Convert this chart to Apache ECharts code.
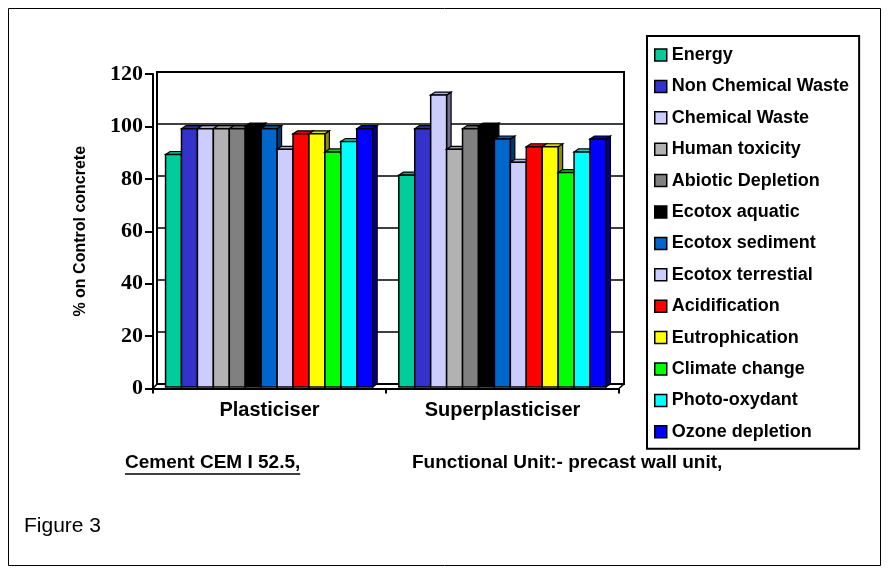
<!DOCTYPE html>
<html>
<head>
<meta charset="utf-8">
<script src="https://cdn.jsdelivr.net/npm/echarts@6/dist/echarts.min.js"></script>
<style>
  html, body { margin: 0; padding: 0; background: #fff; }
  #chart { width: 889px; height: 573px; }
</style>
</head>
<body>
<div id="chart"></div>
<script>
// Admixture variants on the category axis
const categories = ['Plasticiser', 'Superplasticiser'];

// Impact indicators (one bar series each) and their fill colours
const indicators = [
  'Energy', 'Non Chemical Waste', 'Chemical Waste', 'Human toxicity',
  'Abiotic Depletion', 'Ecotox aquatic', 'Ecotox sediment', 'Ecotox terrestial',
  'Acidification', 'Eutrophication', 'Climate change', 'Photo-oxydant', 'Ozone depletion'
];
const colors = [
  '#00CC99', '#3333CC', '#CCCCFF', '#B2B2B2', '#808080', '#000000', '#0066CC',
  '#CCCCFF', '#FF0000', '#FFFF00', '#00FF00', '#00FFFF', '#0000FF'
];

// % on control concrete, per indicator (same order as above)
const plasticiser      = [90, 100, 100, 100, 100, 101, 100, 92, 98, 98, 91, 95, 100];
const superplasticiser = [82, 100, 113, 92, 100, 101, 96, 87, 93, 93, 83, 91, 96];

// Value axis ticks
const yMin = 0, yMax = 120, yStep = 20;

const GROUP_RATIO = 0.888;   // share of a category band filled by its bars
const DX = 4.5, DY = 3;      // depth offset of the pseudo-3D bars
const SANS = '"Liberation Sans", Arial, sans-serif';

function shade(hex, k) {
  const n = parseInt(hex.slice(1), 16);
  const r = Math.round(((n >> 16) & 255) * k);
  const g = Math.round(((n >> 8) & 255) * k);
  const b = Math.round((n & 255) * k);
  return 'rgb(' + r + ',' + g + ',' + b + ')';
}

function renderBar(params, api) {
  const s = params.seriesIndex;
  const cat = api.value(0);
  const v = api.value(1);
  const base = api.coord([cat, 0]);
  const top = api.coord([cat, v]);
  const band = api.size([1, 0])[0];
  const groupW = band * GROUP_RATIO;
  const w = groupW / indicators.length;
  const x0 = base[0] - groupW / 2 + s * w;
  const x1 = x0 + w;
  const yb = base[1];
  const yt = top[1];
  const col = colors[s];
  return {
    type: 'group',
    children: [
      { type: 'polygon',
        shape: { points: [[x1, yb], [x1 + DX, yb - DY], [x1 + DX, yt - DY], [x1, yt]] },
        style: { fill: shade(col, 0.55), stroke: '#000', lineWidth: 1.2 } },
      { type: 'polygon',
        shape: { points: [[x0, yt], [x0 + DX, yt - DY], [x1 + DX, yt - DY], [x1, yt]] },
        style: { fill: shade(col, 0.85), stroke: '#000', lineWidth: 1.2 } },
      { type: 'rect',
        shape: { x: x0, y: yt, width: w, height: yb - yt },
        style: { fill: col, stroke: '#000', lineWidth: 1.5 } }
    ]
  };
}

const series = indicators.map(function (name, i) {
  return {
    name: name,
    type: 'custom',
    xAxisIndex: 1,
    yAxisIndex: 1,
    renderItem: renderBar,
    itemStyle: { color: colors[i], borderColor: '#000', borderWidth: 1.5 },
    encode: { x: 0, y: 1 },
    data: [[0, plasticiser[i]], [1, superplasticiser[i]]],
    z: 3
  };
});

const chart = echarts.init(document.getElementById('chart'), null, { renderer: 'canvas' });

// width of the underlined caption
const captionFont = 'bold 19px ' + SANS;
const measure = document.createElement('canvas').getContext('2d');
measure.font = captionFont;
const cementText = 'Cement CEM I 52.5,';
const cementW = measure.measureText(cementText).width;

const hidden = { show: false };
const edge = { stroke: '#000', lineWidth: 1.5 };

chart.setOption({
  animation: false,
  backgroundColor: '#fff',
  grid: [
    // back wall
    { left: 157, right: 265, top: 72, bottom: 189, show: true, borderColor: '#000', borderWidth: 2, backgroundColor: 'transparent' },
    // bars (mid depth)
    { left: 152.5, right: 270, top: 77, bottom: 186 },
    // front axes
    { left: 153, right: 270, top: 74, bottom: 184.5 }
  ],
  xAxis: [
    { type: 'category', gridIndex: 0, data: categories, axisLine: hidden, axisTick: hidden, axisLabel: hidden },
    { type: 'category', gridIndex: 1, data: categories, axisLine: hidden, axisTick: hidden, axisLabel: hidden },
    { type: 'category', gridIndex: 2, data: categories,
      axisLine: { show: true, lineStyle: { color: '#000', width: 2 } },
      axisTick: { show: true, length: 5, lineStyle: { color: '#000', width: 2 } },
      axisLabel: { color: '#000', fontFamily: SANS, fontWeight: 'bold', fontSize: 20, margin: 12 } }
  ],
  yAxis: [
    { type: 'value', gridIndex: 0, min: yMin, max: yMax, interval: yStep,
      axisLine: hidden, axisTick: hidden, axisLabel: hidden,
      splitLine: { show: true, lineStyle: { color: '#000', width: 1.5 } } },
    { type: 'value', gridIndex: 1, min: yMin, max: yMax, interval: yStep,
      axisLine: hidden, axisTick: hidden, axisLabel: hidden, splitLine: hidden },
    { type: 'value', gridIndex: 2, min: yMin, max: yMax, interval: yStep,
      name: '% on Control concrete', nameLocation: 'middle', nameGap: 64, nameRotate: 90,
      nameTextStyle: { color: '#000', fontFamily: SANS, fontWeight: 'bold', fontSize: 16 },
      axisLine: { show: true, lineStyle: { color: '#000', width: 2 } },
      axisTick: { show: true, length: 8, lineStyle: { color: '#000', width: 2 } },
      axisLabel: { color: '#000', fontFamily: '"Liberation Serif", "Times New Roman", serif', fontWeight: 'bold', fontSize: 22, margin: 10 },
      splitLine: hidden }
  ],
  legend: {
    orient: 'vertical',
    left: 647,
    top: 36,
    padding: [10, 10, 8, 7],
    borderColor: '#000',
    borderWidth: 2,
    itemWidth: 12,
    itemHeight: 12,
    itemGap: 13.4,
    icon: 'rect',
    itemStyle: { borderColor: '#000', borderWidth: 1.5 },
    textStyle: { color: '#000', fontFamily: SANS, fontWeight: 'bold', fontSize: 18 },
    data: indicators
  },
  graphic: [
    { type: 'rect', shape: { x: 8.5, y: 8.5, width: 872, height: 557 },
      style: { fill: 'none', stroke: '#000', lineWidth: 1 }, silent: true, z: 0 },
    // floor corners joining the front axes to the back wall
    { type: 'line', shape: { x1: 153, y1: 388.5, x2: 157, y2: 384 }, style: edge, z: 5 },
    { type: 'line', shape: { x1: 619, y1: 388.5, x2: 624, y2: 384 }, style: edge, z: 5 },
    { type: 'text', left: 125, top: 453,
      style: { text: cementText, font: captionFont, fill: '#000' } },
    { type: 'line', shape: { x1: 125, y1: 474, x2: 125 + cementW, y2: 474 },
      style: { stroke: '#000', lineWidth: 1.5 } },
    { type: 'text', left: 412, top: 453,
      style: { text: 'Functional Unit:- precast wall unit,', font: captionFont, fill: '#000' } },
    { type: 'text', left: 24, top: 516,
      style: { text: 'Figure 3', font: '21px ' + SANS, fill: '#000' } }
  ],
  series: series
});
</script>
</body>
</html>
